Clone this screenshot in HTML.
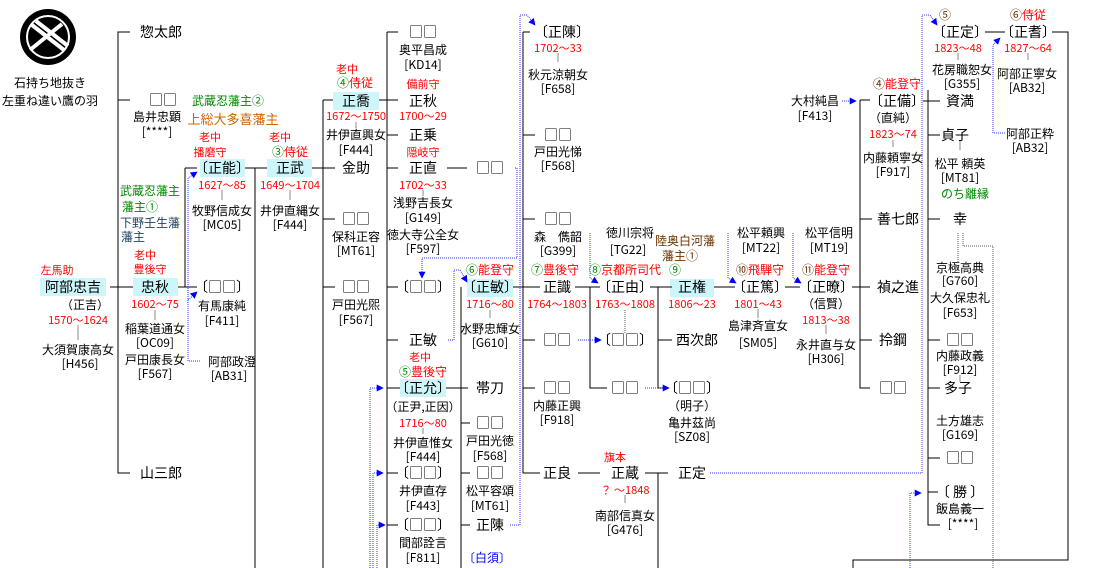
<!DOCTYPE html>
<html><head><meta charset="utf-8"><style>
html,body{margin:0;padding:0;background:#fff;}
svg{display:block;}
text{font-family:"Noto Sans CJK JP","Liberation Sans",sans-serif;text-anchor:middle;fill:#000;}
.n{font-size:14px;}
.s{font-size:12px;}
.r{font-size:11px;fill:#f00;}
.g{font-size:12px;fill:#080;}
.o{font-size:13px;fill:#c60;}
.b{font-size:12px;fill:#246;}
.br{font-size:12px;fill:#630;}
.l{stroke:#000;stroke-width:1;fill:none;}
.d{stroke:#33f;stroke-width:1;stroke-dasharray:1,1;fill:none;}
.gd{stroke:#555;stroke-width:1;stroke-dasharray:1,1;fill:none;}
.t{stroke:#888;stroke-width:1;}
.h{fill:#ccf6fa;}
</style></head><body>
<svg width="1120" height="568" viewBox="0 0 1120 568" xmlns="http://www.w3.org/2000/svg">
<defs><marker id="a" viewBox="0 0 10 10" refX="9" refY="5" markerWidth="7" markerHeight="7" orient="auto"><path d="M0,0L10,5L0,10z" fill="#00f"/></marker></defs>

<!-- crest -->
<circle cx="48" cy="37" r="28" fill="#000"/>
<circle cx="48" cy="37" r="21" fill="none" stroke="#fff" stroke-width="2"/>
<path d="M32,25 L64,50 M36,21 L68,46 M30,50 L62,24" stroke="#fff" stroke-width="4"/>
<text class="s" x="50" y="87">石持ち地抜き</text>
<text class="s" x="50" y="105">左重ね違い鷹の羽</text>

<!-- highlight boxes -->
<rect class="h" x="40" y="278" width="66" height="18"/>
<rect class="h" x="133" y="278" width="45" height="18"/>
<rect class="h" x="200" y="159" width="45" height="18"/>
<rect class="h" x="267" y="159" width="45" height="18"/>
<rect class="h" x="333" y="92" width="46" height="18"/>
<rect class="h" x="400" y="379" width="46" height="18"/>
<rect class="h" x="467" y="279" width="46" height="18"/>
<rect class="h" x="670" y="279" width="44" height="18"/>

<!-- solid lines -->
<path class="l" d="M130,32H118V473H130 M118,100H130 M110,287H133 M178,287H197 M185,168V287 M185,168H197 M245,168H267 M255,168V568 M312,168H335 M323,100V568 M323,100H333 M323,219H335 M323,287H335 M379,100H398 M387,32V568 M387,32H398 M387,135H398 M387,168H398 M387,287H398 M387,340H398 M387,388H400 M387,473H398 M387,525H398 M447,168H467 M446,388H468 M461,287V568 M461,423H470 M461,473H470 M461,525H470 M513,287H540 M523,32V473H540 M523,32H530 M523,135H535 M523,219H535 M523,340H535 M523,388H535 M578,473H600 M645,473H668 M658,473V568 M575,287H600 M590,287V388H607 M590,287H600 M650,287H672 M658,287V388H668 M658,340H672 M714,287H735 M785,287H800 M852,287H870 M860,100V388H870 M860,100H870 M860,219H872 M860,340H872 M923,101H940 M928,90V525H940 M928,135H940 M928,219H940 M928,340H940 M928,388H940 M928,458H940 M928,492H938 M985,32H1005 M1052,32H1068V560H853V568"/>
<!-- small ticks -->
<path class="t" d="M78,325V340 M155,310V320 M222,190V200 M290,190V200 M356,122V128 M423,190V196 M558,53V62 M423,428V434 M490,310V318 M625,495V503 M758,309V318 M826,325V334 M893,140V147 M958,53V60 M1028,53V60 M960,141V150 M960,375V382"/>
<path class="gd" d="M625,310V333 M958,233V262 M963,233V246H993V568"/>

<!-- blue dotted connectors -->
<path class="d" d="M200,361H188V178L197,172" marker-end="url(#a)"/>
<path class="d" d="M188,300L197,292" marker-end="url(#a)"/>
<path class="d" d="M515,168H517V258H422V278" marker-end="url(#a)"/>
<path class="d" d="M448,340H454V270H460L467,282" marker-end="url(#a)"/>
<path class="d" d="M370,568V388H383" marker-end="url(#a)"/>
<path class="d" d="M373,568V473H383" marker-end="url(#a)"/>
<path class="d" d="M377,568V525H385" marker-end="url(#a)"/>
<path class="d" d="M510,525H520V15H527L535,25" marker-end="url(#a)"/>
<path class="d" d="M710,473H922V15H930L937,25" marker-end="url(#a)"/>
<path class="d" d="M590,233V278L598,283" marker-end="url(#a)"/>
<path class="d" d="M578,340H601" marker-end="url(#a)"/>
<path class="d" d="M645,388H669" marker-end="url(#a)"/>
<path class="d" d="M728,233V278L736,283" marker-end="url(#a)"/>
<path class="d" d="M793,233V278L801,283" marker-end="url(#a)"/>
<path class="d" d="M842,101H856" marker-end="url(#a)"/>
<path class="d" d="M1005,133H993V45L1000,38" marker-end="url(#a)"/>
<path class="d" d="M910,568V493H921" marker-end="url(#a)"/>

<!-- column 1 -->
<text class="n" x="161" y="37">惣太郎</text>
<text class="n" x="163" y="105">□□</text>
<text class="s" x="157" y="121">島井忠顕</text>
<text class="s" x="157" y="136">[****]</text>
<text class="n" x="161" y="478">山三郎</text>
<text class="g" x="228" y="105">武蔵忍藩主②</text>
<text class="o" x="233" y="124">上総大多喜藩主</text>
<text class="g" x="150" y="195">武蔵忍藩主</text>
<text class="g" x="140" y="211">藩主①</text>
<text class="b" x="150" y="227">下野壬生藩</text>
<text class="b" x="133" y="241">藩主</text>
<text class="r" x="57" y="274">左馬助</text>
<text class="n" x="73" y="292">阿部忠吉</text>
<text class="s" x="85" y="309">（正吉）</text>
<text class="r" x="78" y="324">1570～1624</text>
<text class="s" x="78" y="354">大須賀康高女</text>
<text class="s" x="80" y="368">[H456]</text>
<text class="r" x="145" y="259">老中</text>
<text class="r" x="150" y="273">豊後守</text>
<text class="n" x="155" y="292">忠秋</text>
<text class="r" x="155" y="308">1602～75</text>
<text class="s" x="155" y="333">稲葉道通女</text>
<text class="s" x="155" y="347">[OC09]</text>
<text class="s" x="155" y="364">戸田康長女</text>
<text class="s" x="155" y="378">[F567]</text>
<text class="r" x="210" y="141">老中</text>
<text class="r" x="210" y="156">播磨守</text>
<text class="n" x="222" y="173">〔正能〕</text>
<text class="r" x="222" y="189">1627～85</text>
<text class="s" x="222" y="215">牧野信成女</text>
<text class="s" x="222" y="229">[MC05]</text>
<text class="n" x="222" y="292">〔□□〕</text>
<text class="s" x="222" y="310">有馬康純</text>
<text class="s" x="222" y="325">[F411]</text>
<text class="s" x="232" y="366">阿部政澄</text>
<text class="s" x="229" y="380">[AB31]</text>
<text class="r" x="280" y="141">老中</text>
<text class="g" x="290" y="156">③<tspan fill="#f00">侍従</tspan></text>
<text class="n" x="290" y="173">正武</text>
<text class="r" x="290" y="189">1649～1704</text>
<text class="s" x="290" y="215">井伊直縄女</text>
<text class="s" x="290" y="229">[F444]</text>

<!-- column 正喬 -->
<text class="r" x="347" y="73">老中</text>
<text class="g" x="355" y="87">④<tspan fill="#f00">侍従</tspan></text>
<text class="n" x="356" y="106">正喬</text>
<text class="r" x="356" y="120">1672～1750</text>
<text class="s" x="356" y="139">井伊直興女</text>
<text class="s" x="356" y="154">[F444]</text>
<text class="n" x="356" y="173">金助</text>
<text class="n" x="356" y="224">□□</text>
<text class="s" x="356" y="241">保科正容</text>
<text class="s" x="356" y="255">[MT61]</text>
<text class="n" x="356" y="292">□□</text>
<text class="s" x="356" y="309">戸田光煕</text>
<text class="s" x="356" y="324">[F567]</text>

<!-- column 正秋 -->
<text class="n" x="423" y="37">□□</text>
<text class="s" x="423" y="54">奥平昌成</text>
<text class="s" x="423" y="69">[KD14]</text>
<text class="r" x="423" y="88">備前守</text>
<text class="n" x="423" y="106">正秋</text>
<text class="r" x="423" y="120">1700～29</text>
<text class="n" x="423" y="140">正乗</text>
<text class="r" x="423" y="156">隠岐守</text>
<text class="n" x="423" y="173">正直</text>
<text class="r" x="423" y="189">1702～33</text>
<text class="s" x="423" y="207">浅野吉長女</text>
<text class="s" x="423" y="222">[G149]</text>
<text class="s" x="423" y="239">徳大寺公全女</text>
<text class="s" x="423" y="253">[F597]</text>
<text class="n" x="490" y="173">□□</text>
<text class="n" x="423" y="292">〔□□〕</text>
<text class="n" x="423" y="345">正敏</text>
<text class="r" x="420" y="361">老中</text>
<text class="g" x="423" y="376">⑤<tspan fill="#f00">豊後守</tspan></text>
<text class="n" x="423" y="393">〔正允〕</text>
<text class="s" x="423" y="411">（正尹,正因）</text>
<text class="r" x="423" y="427">1716～80</text>
<text class="s" x="423" y="447">井伊直惟女</text>
<text class="s" x="423" y="461">[F444]</text>
<text class="n" x="423" y="478">〔□□〕</text>
<text class="s" x="423" y="495">井伊直存</text>
<text class="s" x="423" y="510">[F443]</text>
<text class="n" x="423" y="530">〔□□〕</text>
<text class="s" x="423" y="547">間部詮言</text>
<text class="s" x="423" y="562">[F811]</text>

<!-- column 正敏 -->
<text class="g" x="490" y="274">⑥<tspan fill="#f00">能登守</tspan></text>
<text class="n" x="490" y="292">〔正敏〕</text>
<text class="r" x="490" y="308">1716～80</text>
<text class="s" x="490" y="333">水野忠輝女</text>
<text class="s" x="490" y="347">[G610]</text>
<text class="n" x="490" y="393">帯刀</text>
<text class="n" x="490" y="428">□□</text>
<text class="s" x="490" y="445">戸田光徳</text>
<text class="s" x="490" y="460">[F568]</text>
<text class="n" x="490" y="478">□□</text>
<text class="s" x="490" y="495">松平容頌</text>
<text class="s" x="490" y="510">[MT61]</text>
<text class="n" x="490" y="530">正陳</text>
<text class="s" x="487" y="562" style="fill:#00f">〔白須〕</text>

<!-- column 正陳 / 正識 -->
<text class="n" x="562" y="37">〔正陳〕</text>
<text class="r" x="558" y="52">1702～33</text>
<text class="s" x="558" y="79">秋元涼朝女</text>
<text class="s" x="558" y="93">[F658]</text>
<text class="n" x="558" y="140">□□</text>
<text class="s" x="558" y="156">戸田光悌</text>
<text class="s" x="558" y="170">[F568]</text>
<text class="n" x="558" y="224">□□</text>
<text class="s" x="558" y="241">森　儁韶</text>
<text class="s" x="558" y="255">[G399]</text>
<text class="g" x="555" y="274">⑦<tspan fill="#f00">豊後守</tspan></text>
<text class="n" x="557" y="292">正識</text>
<text class="r" x="557" y="308">1764～1803</text>
<text class="n" x="557" y="345">□□</text>
<text class="n" x="557" y="393">□□</text>
<text class="s" x="557" y="410">内藤正興</text>
<text class="s" x="557" y="424">[F918]</text>
<text class="n" x="557" y="478">正良</text>
<text class="r" x="615" y="461">旗本</text>
<text class="n" x="625" y="478">正蔵</text>
<text class="r" x="625" y="494">？ ～1848</text>
<text class="s" x="625" y="520">南部信真女</text>
<text class="s" x="625" y="534">[G476]</text>
<text class="n" x="692" y="478">正定</text>

<!-- column 正由 -->
<text class="s" x="630" y="237">徳川宗将</text>
<text class="s" x="628" y="254">[TG22]</text>
<text class="g" x="625" y="274">⑧<tspan fill="#f00">京都所司代</tspan></text>
<text class="n" x="625" y="292">〔正由〕</text>
<text class="r" x="625" y="308">1763～1808</text>
<text class="n" x="625" y="345">〔□□〕</text>
<text class="n" x="625" y="393">□□</text>
<text class="br" x="685" y="245">陸奥白河藩</text>
<text class="br" x="680" y="260">藩主①</text>
<text class="s" x="675" y="274" style="fill:#080">⑨</text>
<text class="n" x="692" y="292">正権</text>
<text class="r" x="692" y="308">1806～23</text>
<text class="n" x="697" y="345">西次郎</text>
<text class="n" x="692" y="393">〔□□〕</text>
<text class="s" x="692" y="410">（明子）</text>
<text class="s" x="692" y="427">亀井茲尚</text>
<text class="s" x="692" y="441">[SZ08]</text>

<!-- column 正篤 / 正暸 -->
<text class="s" x="761" y="237">松平頼興</text>
<text class="s" x="761" y="252">[MT22]</text>
<text class="br" x="760" y="274">⑩<tspan fill="#f00">飛騨守</tspan></text>
<text class="n" x="760" y="292">〔正篤〕</text>
<text class="r" x="758" y="308">1801～43</text>
<text class="s" x="758" y="330">島津斉宣女</text>
<text class="s" x="758" y="347">[SM05]</text>
<text class="s" x="829" y="237">松平信明</text>
<text class="s" x="829" y="252">[MT19]</text>
<text class="br" x="826" y="274">⑪<tspan fill="#f00">能登守</tspan></text>
<text class="n" x="826" y="292">〔正暸〕</text>
<text class="s" x="826" y="308">（信賢）</text>
<text class="r" x="826" y="324">1813～38</text>
<text class="s" x="826" y="349">永井直与女</text>
<text class="s" x="826" y="363">[H306]</text>

<!-- column 正備 -->
<text class="s" x="815" y="105">大村純昌</text>
<text class="s" x="815" y="120">[F413]</text>
<text class="br" x="897" y="88">④<tspan fill="#f00">能登守</tspan></text>
<text class="n" x="897" y="106">〔正備〕</text>
<text class="s" x="893" y="122">（直純）</text>
<text class="r" x="893" y="138">1823～74</text>
<text class="s" x="893" y="162">内藤頼寧女</text>
<text class="s" x="893" y="176">[F917]</text>
<text class="n" x="898" y="224">善七郎</text>
<text class="n" x="898" y="292">禎之進</text>
<text class="n" x="893" y="345">拎鋼</text>
<text class="n" x="893" y="393">□□</text>

<!-- column 正定 -->
<text class="s" x="945" y="19" style="fill:#630">⑤</text>
<text class="n" x="960" y="37">〔正定〕</text>
<text class="r" x="958" y="52">1823～48</text>
<text class="s" x="962" y="74">花房職恕女</text>
<text class="s" x="962" y="88">[G355]</text>
<text class="n" x="960" y="106">資満</text>
<text class="n" x="955" y="140">貞子</text>
<text class="s" x="960" y="168">松平 頼英</text>
<text class="s" x="960" y="182">[MT81]</text>
<text class="g" x="965" y="198">のち離縁</text>
<text class="n" x="960" y="224">幸</text>
<text class="s" x="960" y="272">京極高典</text>
<text class="s" x="960" y="285">[G760]</text>
<text class="s" x="960" y="302">大久保忠礼</text>
<text class="s" x="960" y="317">[F653]</text>
<text class="n" x="960" y="345">□□</text>
<text class="s" x="960" y="360">内藤政義</text>
<text class="s" x="960" y="374">[F912]</text>
<text class="n" x="958" y="393">多子</text>
<text class="s" x="960" y="425">土方雄志</text>
<text class="s" x="960" y="439">[G169]</text>
<text class="n" x="960" y="463">□□</text>
<text class="n" x="960" y="497">〔 勝 〕</text>
<text class="s" x="960" y="513">飯島義一</text>
<text class="s" x="963" y="528">[****]</text>

<!-- column 正耆 -->
<text class="br" x="1028" y="19">⑥<tspan fill="#f00">侍従</tspan></text>
<text class="n" x="1028" y="37">〔正耆〕</text>
<text class="r" x="1028" y="52">1827～64</text>
<text class="s" x="1027" y="78">阿部正寧女</text>
<text class="s" x="1027" y="92">[AB32]</text>
<text class="s" x="1030" y="138">阿部正粋</text>
<text class="s" x="1030" y="152">[AB32]</text>
</svg>
</body></html>
